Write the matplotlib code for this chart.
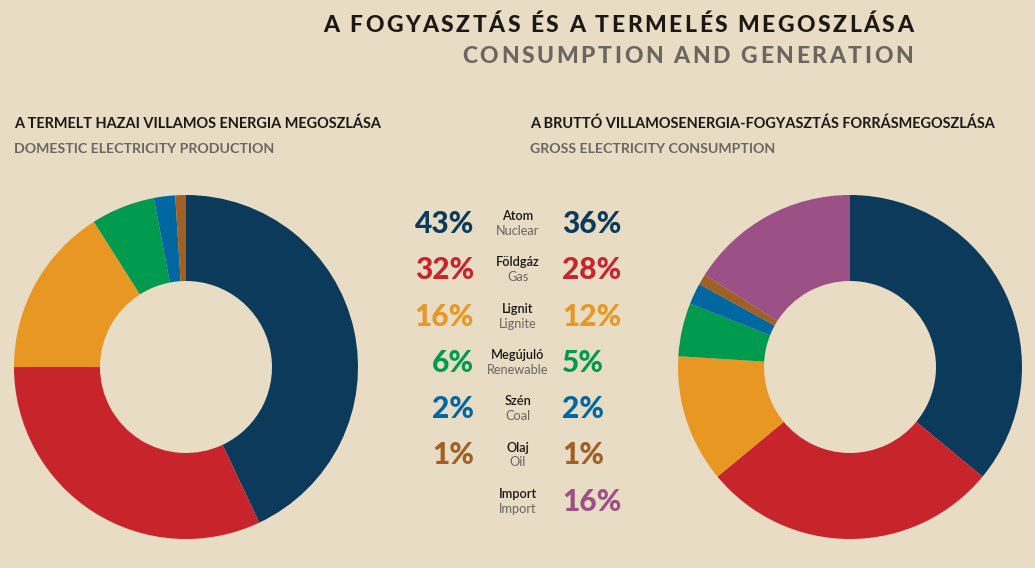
"""Consumption and generation split: two donuts with a shared legend column."""

import matplotlib
matplotlib.use("Agg")
import matplotlib.pyplot as plt
from matplotlib.font_manager import FontProperties

W, H = 1035, 568
BG = "#e8dcc5"
DARK = "#1c1915"
GRAY = "#6b665e"

# data
SOURCES_HU = ["Atom", "Földgáz", "Lignit", "Megújuló", "Szén", "Olaj", "Import"]
SOURCES_EN = ["Nuclear", "Gas", "Lignite", "Renewable", "Coal", "Oil", "Import"]
COLORS = ["#0b3a5a", "#c8242b", "#e89723", "#009a4e", "#0067a0", "#a05f25", "#9b5086"]
PRODUCTION = [43, 32, 16, 6, 2, 1]
CONSUMPTION = [36, 28, 12, 5, 2, 1, 16]

fig = plt.figure(figsize=(W / 100, H / 100), dpi=100, facecolor=BG)
renderer = fig.canvas.get_renderer()


def fx(x):
    return x / W


def fy(y):
    return 1 - y / H


def tracked_text(s, x_right, y, width, prop, color):
    """Right-aligned text spread out to a given pixel width (letter spacing)."""
    def w(t):
        return renderer.get_text_width_height_descent(t, prop, ismath=False)[0]

    base = w("II")
    advs = [w("I" + c + "I") - base for c in s]
    natural = sum(advs[:-1]) + w(s[-1])
    track = (width - natural) / (len(s) - 1)
    x = x_right - width
    for c, a in zip(s, advs):
        fig.text(fx(x), fy(y), c, fontproperties=prop, color=color,
                 ha="left", va="baseline")
        x += a + track


# title
title_fp = FontProperties(family=["Lato", "DejaVu Sans"], weight="black", size=16.5)
tracked_text("A FOGYASZTÁS ÉS A TERMELÉS MEGOSZLÁSA", 913, 32, 590, title_fp, DARK)
tracked_text("CONSUMPTION AND GENERATION", 913, 63, 451, title_fp, GRAY)

# section headings
head_fp = FontProperties(family=["Lato", "DejaVu Sans"], weight="bold", size=10.45)
sub_fp = FontProperties(family=["Lato", "DejaVu Sans"], weight="bold", size=10.2)
fig.text(fx(14), fy(128), "A TERMELT HAZAI VILLAMOS ENERGIA MEGOSZLÁSA",
         fontproperties=head_fp, color=DARK, va="baseline")
fig.text(fx(14), fy(153), "DOMESTIC ELECTRICITY PRODUCTION",
         fontproperties=sub_fp, color=GRAY, va="baseline")
fig.text(fx(530), fy(128), "A BRUTTÓ VILLAMOSENERGIA-FOGYASZTÁS FORRÁSMEGOSZLÁSA",
         fontproperties=head_fp, color=DARK, va="baseline")
fig.text(fx(530), fy(153), "GROSS ELECTRICITY CONSUMPTION",
         fontproperties=sub_fp, color=GRAY, va="baseline")

# donuts
R = 172


def donut(cx, cy, values):
    ax = fig.add_axes([fx(cx - R), fy(cy + R), 2 * R / W, 2 * R / H])
    ax.pie(values, colors=COLORS[:len(values)], startangle=90, counterclock=False,
           radius=1, wedgeprops=dict(width=0.5, linewidth=0))
    ax.set_xlim(-1, 1)
    ax.set_ylim(-1, 1)
    ax.set_aspect("equal")
    ax.axis("off")


donut(186, 367, PRODUCTION)
donut(850, 367, CONSUMPTION)

# legend column
pct_fp = FontProperties(family=["Lato", "DejaVu Sans"], weight="black", size=21.5)
lab_fp = FontProperties(family=["Lato", "DejaVu Sans"], weight="semibold", size=9.2)
lab2_fp = FontProperties(family=["Lato", "DejaVu Sans"], weight="normal", size=9.2)
row_top, row_step = 233, 46.3
for i, (hu, en) in enumerate(zip(SOURCES_HU, SOURCES_EN)):
    yb = row_top + i * row_step
    fig.text(fx(518), fy(yb - 13), hu, fontproperties=lab_fp, color=DARK,
             ha="center", va="baseline")
    fig.text(fx(518), fy(yb + 2), en, fontproperties=lab2_fp, color=GRAY,
             ha="center", va="baseline")
    if i < len(PRODUCTION):
        fig.text(fx(474), fy(yb), f"{PRODUCTION[i]}%", fontproperties=pct_fp,
                 color=COLORS[i], ha="right", va="baseline")
    fig.text(fx(562), fy(yb), f"{CONSUMPTION[i]}%", fontproperties=pct_fp,
             color=COLORS[i], ha="left", va="baseline")

fig.savefig("out.png", dpi=100, facecolor=BG)
